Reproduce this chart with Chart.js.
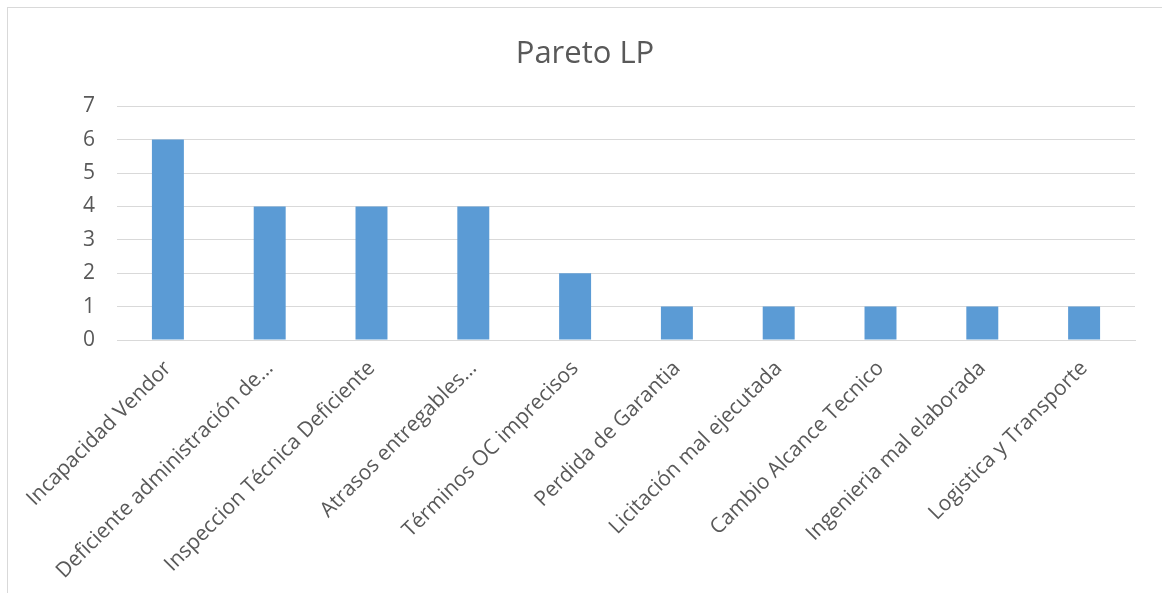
<!DOCTYPE html>
<html>
<head>
<meta charset="utf-8">
<script src="https://cdn.jsdelivr.net/npm/chart.js@4.4.1/dist/chart.umd.min.js"></script>
<style>
  html, body { margin: 0; padding: 0; background: #ffffff; }
  #wrap { position: absolute; left: 0; top: 0; width: 1162px; height: 593px; }
  #frame { position: absolute; left: 7px; top: 7px; width: 1160px; height: 600px;
           border-left: 1px solid #d9d9d9; border-top: 1px solid #d9d9d9; box-sizing: border-box; }
  canvas { position: absolute; left: 0; top: 0; }
</style>
</head>
<body>
<div id="wrap">
  <div id="frame"></div>
  <canvas id="c" width="1162" height="593"></canvas>
</div>
<script>
const chartTitle = "Pareto LP";
const categories = [
  "Incapacidad Vendor",
  "Deficiente administración de…",
  "Inspeccion Técnica Deficiente",
  "Atrasos entregables…",
  "Términos OC imprecisos",
  "Perdida de Garantia",
  "Licitación mal ejecutada",
  "Cambio Alcance Tecnico",
  "Ingenieria mal elaborada",
  "Logistica y Transporte"
];
const counts = [6, 4, 4, 4, 2, 1, 1, 1, 1, 1];
const yTicks = [0, 1, 2, 3, 4, 5, 6, 7];

const textColor = "#595959";
const gridColor = "#d9d9d9";
const barColor = "#5B9BD5";
const fontFamily = "'Open Sans', 'Noto Sans', sans-serif";

new Chart(document.getElementById("c"), {
  type: "bar",
  data: {
    labels: categories,
    datasets: [{
      label: "Frecuencia",
      data: counts,
      backgroundColor: barColor,
      borderWidth: 0,
      categoryPercentage: 1.0,
      barPercentage: 0.314,
      yAxisID: "y"
    }]
  },
  options: {
    responsive: false,
    animation: false,
    devicePixelRatio: 1,
    layout: { padding: { left: 8, right: 0, top: 0, bottom: 0 } },
    plugins: {
      legend: { display: false },
      tooltip: { enabled: false },
      title: {
        display: true,
        text: chartTitle,
        color: textColor,
        font: { family: fontFamily, size: 31, weight: "normal", lineHeight: 1.2 },
        padding: { top: 36, bottom: 33 }
      }
    },
    scales: {
      x: {
        grid: { display: false, drawTicks: false },
        border: { display: true, color: gridColor, width: 1 },
        ticks: {
          color: textColor,
          font: { family: fontFamily, size: 21 },
          maxRotation: 45,
          minRotation: 45,
          autoSkip: false,
          padding: 16
        },
        afterFit: (s) => { s.height = 253; }
      },
      y: {
        min: 0,
        max: 7,
        afterBuildTicks: (s) => { s.ticks = yTicks.map(v => ({ value: v })); },
        grid: { color: gridColor, lineWidth: 1, drawTicks: false },
        border: { display: false },
        ticks: {
          color: textColor,
          font: { family: fontFamily, size: 21 },
          padding: 22
        },
        afterFit: (s) => { s.width = 109; }
      },
      yRight: {
        position: "right",
        min: 0,
        max: 7,
        grid: { display: false, drawTicks: false },
        border: { display: false },
        ticks: { display: false },
        afterFit: (s) => { s.width = 27; }
      }
    }
  }
});
</script>
</body>
</html>
